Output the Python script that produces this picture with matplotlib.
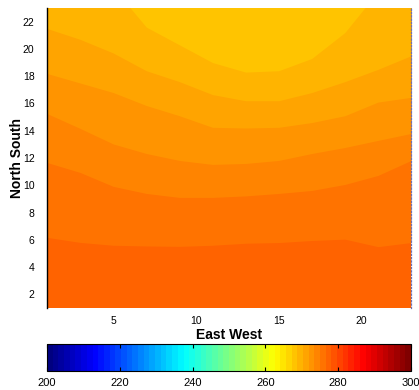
"""
Filled contour of a field over East West / North South, MATLAB jet look.
"""

import numpy as np
import matplotlib
matplotlib.use('Agg')
import matplotlib.pyplot as plt
from matplotlib.colors import LinearSegmentedColormap, Normalize
import matplotlib.cm as cm

plt.rcParams['font.family'] = ['Liberation Sans', 'DejaVu Sans']

# sample positions along East West
east_west = [1, 3, 5, 7, 9, 11, 13, 15, 17, 19, 21, 23]

# North South position of each contour line (bottom band to top band)
line_fg = [6.18, 5.81, 5.60, 5.55, 5.52, 5.60, 5.75, 5.80, 5.95, 6.05, 5.50, 5.80]
line_ef = [11.67, 10.94, 9.92, 9.40, 9.11, 9.11, 9.22, 9.40, 9.62, 10.06, 10.72, 11.82]
line_de = [15.26, 14.17, 13.03, 12.33, 11.82, 11.53, 11.60, 11.82, 12.33, 12.77, 13.29, 13.80]
line_cd = [18.20, 17.50, 16.80, 15.85, 15.10, 14.25, 14.20, 14.25, 14.60, 15.10, 16.10, 16.45]
line_bc = [21.50, 20.70, 19.70, 18.40, 17.60, 16.65, 16.20, 16.20, 16.80, 17.60, 18.50, 19.50]
line_ab = [27.0, 26.0, 24.5, 21.6, 20.3, 19.0, 18.3, 18.4, 19.3, 21.2, 24.2, 26.5]

# value of each band, bottom to top
band_values = [277.3, 275.8, 274.2, 272.7, 271.1, 269.5, 268.0]

xticks = [5, 10, 15, 20]
yticks = [2, 4, 6, 8, 10, 12, 14, 16, 18, 20, 22]
cbar_ticks = [200, 220, 240, 260, 280, 300]

# MATLAB style jet with 64 entries
jet_m = LinearSegmentedColormap('jet_m', {
    'red': [(0, 0, 0), (0.375, 0, 0), (0.625, 1, 1), (0.875, 1, 1), (1, 0.5, 0.5)],
    'green': [(0, 0, 0), (0.125, 0, 0), (0.375, 1, 1), (0.625, 1, 1), (0.875, 0, 0), (1, 0, 0)],
    'blue': [(0, 0.5, 0.5), (0.125, 1, 1), (0.375, 1, 1), (0.625, 0, 0), (1, 0, 0)],
}, N=64)
norm = Normalize(200, 300)

fig = plt.figure(figsize=(4.19, 3.90), dpi=100)
ax = fig.add_axes([47 / 419, 82 / 390, 364 / 419, 300 / 390])

x = np.array(east_west)
lines = [line_fg, line_ef, line_de, line_cd, line_bc, line_ab]
ax.fill_between(x, 1, 23, color=jet_m(norm(band_values[0])), lw=0)
for line, val in zip(lines, band_values[1:]):
    ax.fill_between(x, line, 30, color=jet_m(norm(val)), lw=0)

ax.set_xlim(1, 23)
ax.set_ylim(1, 23)
ax.set_xticks(xticks)
ax.set_yticks(yticks)
ax.tick_params(length=0, labelsize=7.5, pad=6)
ax.tick_params(axis='y', pad=9)
for s in ('top', 'bottom'):
    ax.spines[s].set_visible(False)
ax.spines['left'].set_linewidth(1.0)
ax.spines['right'].set_color('#7070b0')
ax.spines['right'].set_linestyle(':')
ax.spines['right'].set_linewidth(0.9)
ax.set_xlabel('East West', fontsize=10, fontweight='bold', labelpad=1)
ax.set_ylabel('North South', fontsize=10, fontweight='bold')
ax.yaxis.set_label_coords(-0.063, 0.5)

cax = fig.add_axes([47 / 419, 19 / 390, 364 / 419, 27 / 390])
sm = cm.ScalarMappable(norm=norm, cmap=jet_m)
cb = fig.colorbar(sm, cax=cax, orientation='horizontal', ticks=cbar_ticks)
cax.tick_params(direction='in', top=True, bottom=True, length=3, width=0.8,
                labelsize=8, pad=5)
cb.outline.set_linewidth(0.8)

fig.savefig('out.png', dpi=100)
